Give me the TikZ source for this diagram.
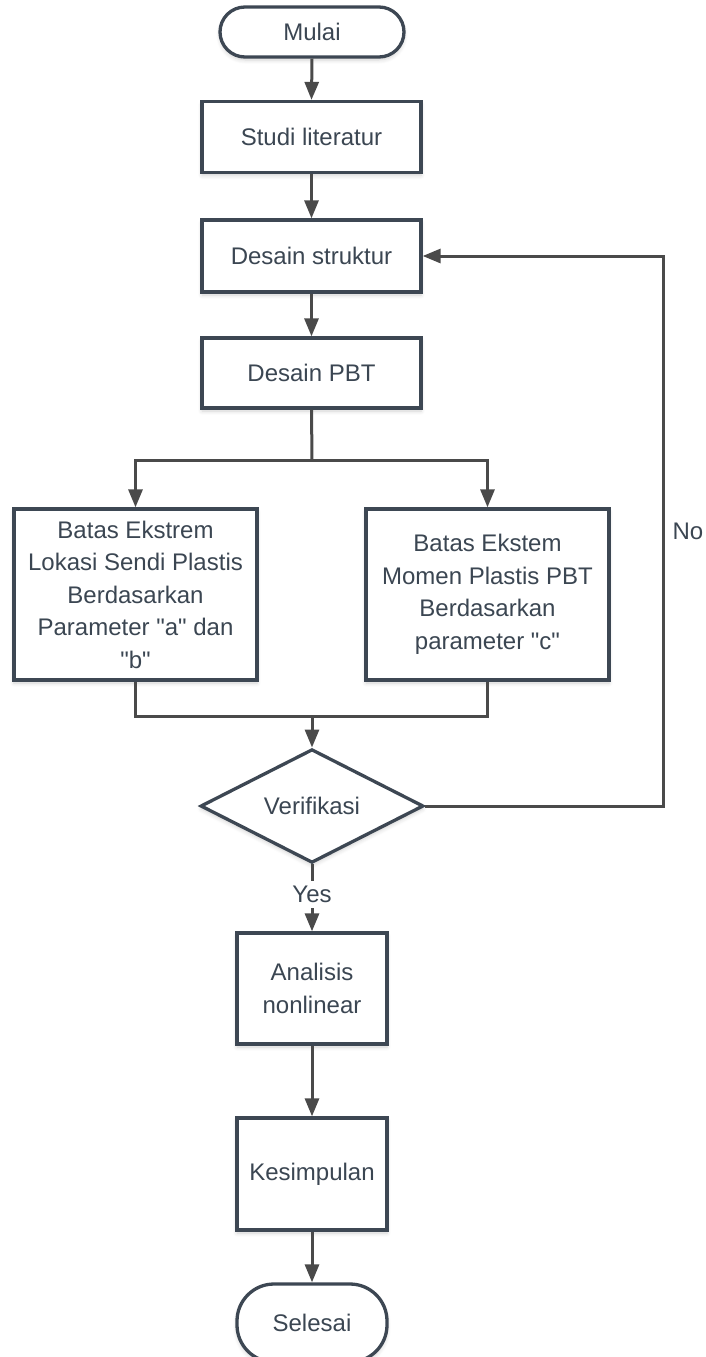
\documentclass[tikz,border=0pt]{standalone}
\usepackage{fontspec}
\setmainfont{Liberation Sans}
\newfontfamily\lsans{Liberation Sans}
\usetikzlibrary{arrows.meta,shapes.geometric,shadows.blur}
\definecolor{edgecol}{HTML}{3D4753}
\definecolor{arrcol}{HTML}{4A4A4A}
\definecolor{txtcol}{HTML}{3B4652}
\begin{document}
\begin{tikzpicture}[x=1pt,y=-1pt,
  base/.style={draw=edgecol,line width=3.3pt,fill=white,text=txtcol,align=center,
    font=\lsans\fontsize{24}{32.5}\selectfont,inner sep=0pt,
    blur shadow={shadow xshift=0pt,shadow yshift=-3pt,shadow blur steps=6,shadow opacity=18,shadow blur radius=4pt}},
  procbox/.style={base,rectangle},
  termbox/.style={base,rectangle,rounded corners=#1},
  decbox/.style={base,diamond},
  conn/.style={draw=arrcol,line width=3pt},
  arr/.style={conn,-{Triangle[length=18pt,width=14pt]}},
  lbl/.style={text=txtcol,font=\lsans\fontsize{24}{32.5}\selectfont,inner sep=0pt}
]
\useasboundingbox (0,0) rectangle (705,1357);

\node[termbox=25pt,minimum width=184pt,minimum height=50pt] (mulai) at (312,32) {Mulai};
\node[procbox,minimum width=219pt,minimum height=71pt] (studi) at (311.5,137) {Studi literatur};
\node[procbox,minimum width=219pt,minimum height=72pt] (desain) at (311.5,256) {Desain struktur};
\node[procbox,minimum width=219pt,minimum height=70pt] (pbt) at (311.5,373) {Desain PBT};
\node[procbox,minimum width=243pt,minimum height=171pt] (left) at (135.5,594.5)
  {Batas Ekstrem\\Lokasi Sendi Plastis\\Berdasarkan\\Parameter "a" dan\\"b"};
\node[procbox,minimum width=243pt,minimum height=171pt] (right) at (487.5,594.5)
  {Batas Ekstem\\Momen Plastis PBT\\Berdasarkan\\parameter "c"};
\node[decbox,minimum width=223pt,minimum height=112pt] (dia) at (312,806) {Verifikasi};
\node[procbox,minimum width=150pt,minimum height=111pt] (anal) at (312,988.5) {Analisis\\nonlinear};
\node[procbox,minimum width=150pt,minimum height=112pt] (kes) at (312,1174) {Kesimpulan};
\node[termbox=37pt,minimum width=150pt,minimum height=78pt] (sel) at (312,1323) {Selesai};

\coordinate (br) at (312,460);
\coordinate (jn) at (312,716);
\coordinate (nc) at (663,256);

\draw[arr] (mulai.south) -- (studi.north);
\draw[arr] (studi.south) -- (desain.north);
\draw[arr] (desain.south) -- (pbt.north);
\draw[conn] (pbt.south) -- (br);
\draw[arr] (br) -| (left.north);
\draw[arr] (br) -| (right.north);
\draw[conn] (left.south) |- (jn);
\draw[conn] (right.south) |- (jn);
\draw[arr] (jn) -- (dia.north);
\draw[arr] (dia.east) -| (nc) -- (desain.east);
\draw[arr] (dia.south) -- node[lbl,fill=white,inner ysep=5pt,inner xsep=2pt,pos=0.45] (yes) {Yes} (anal.north);
\draw[arr] (anal.south) -- (kes.north);
\draw[arr] (kes.south) -- (sel.north);

\node[lbl] (no) at (688,531) {No};
\end{tikzpicture}
\end{document}
